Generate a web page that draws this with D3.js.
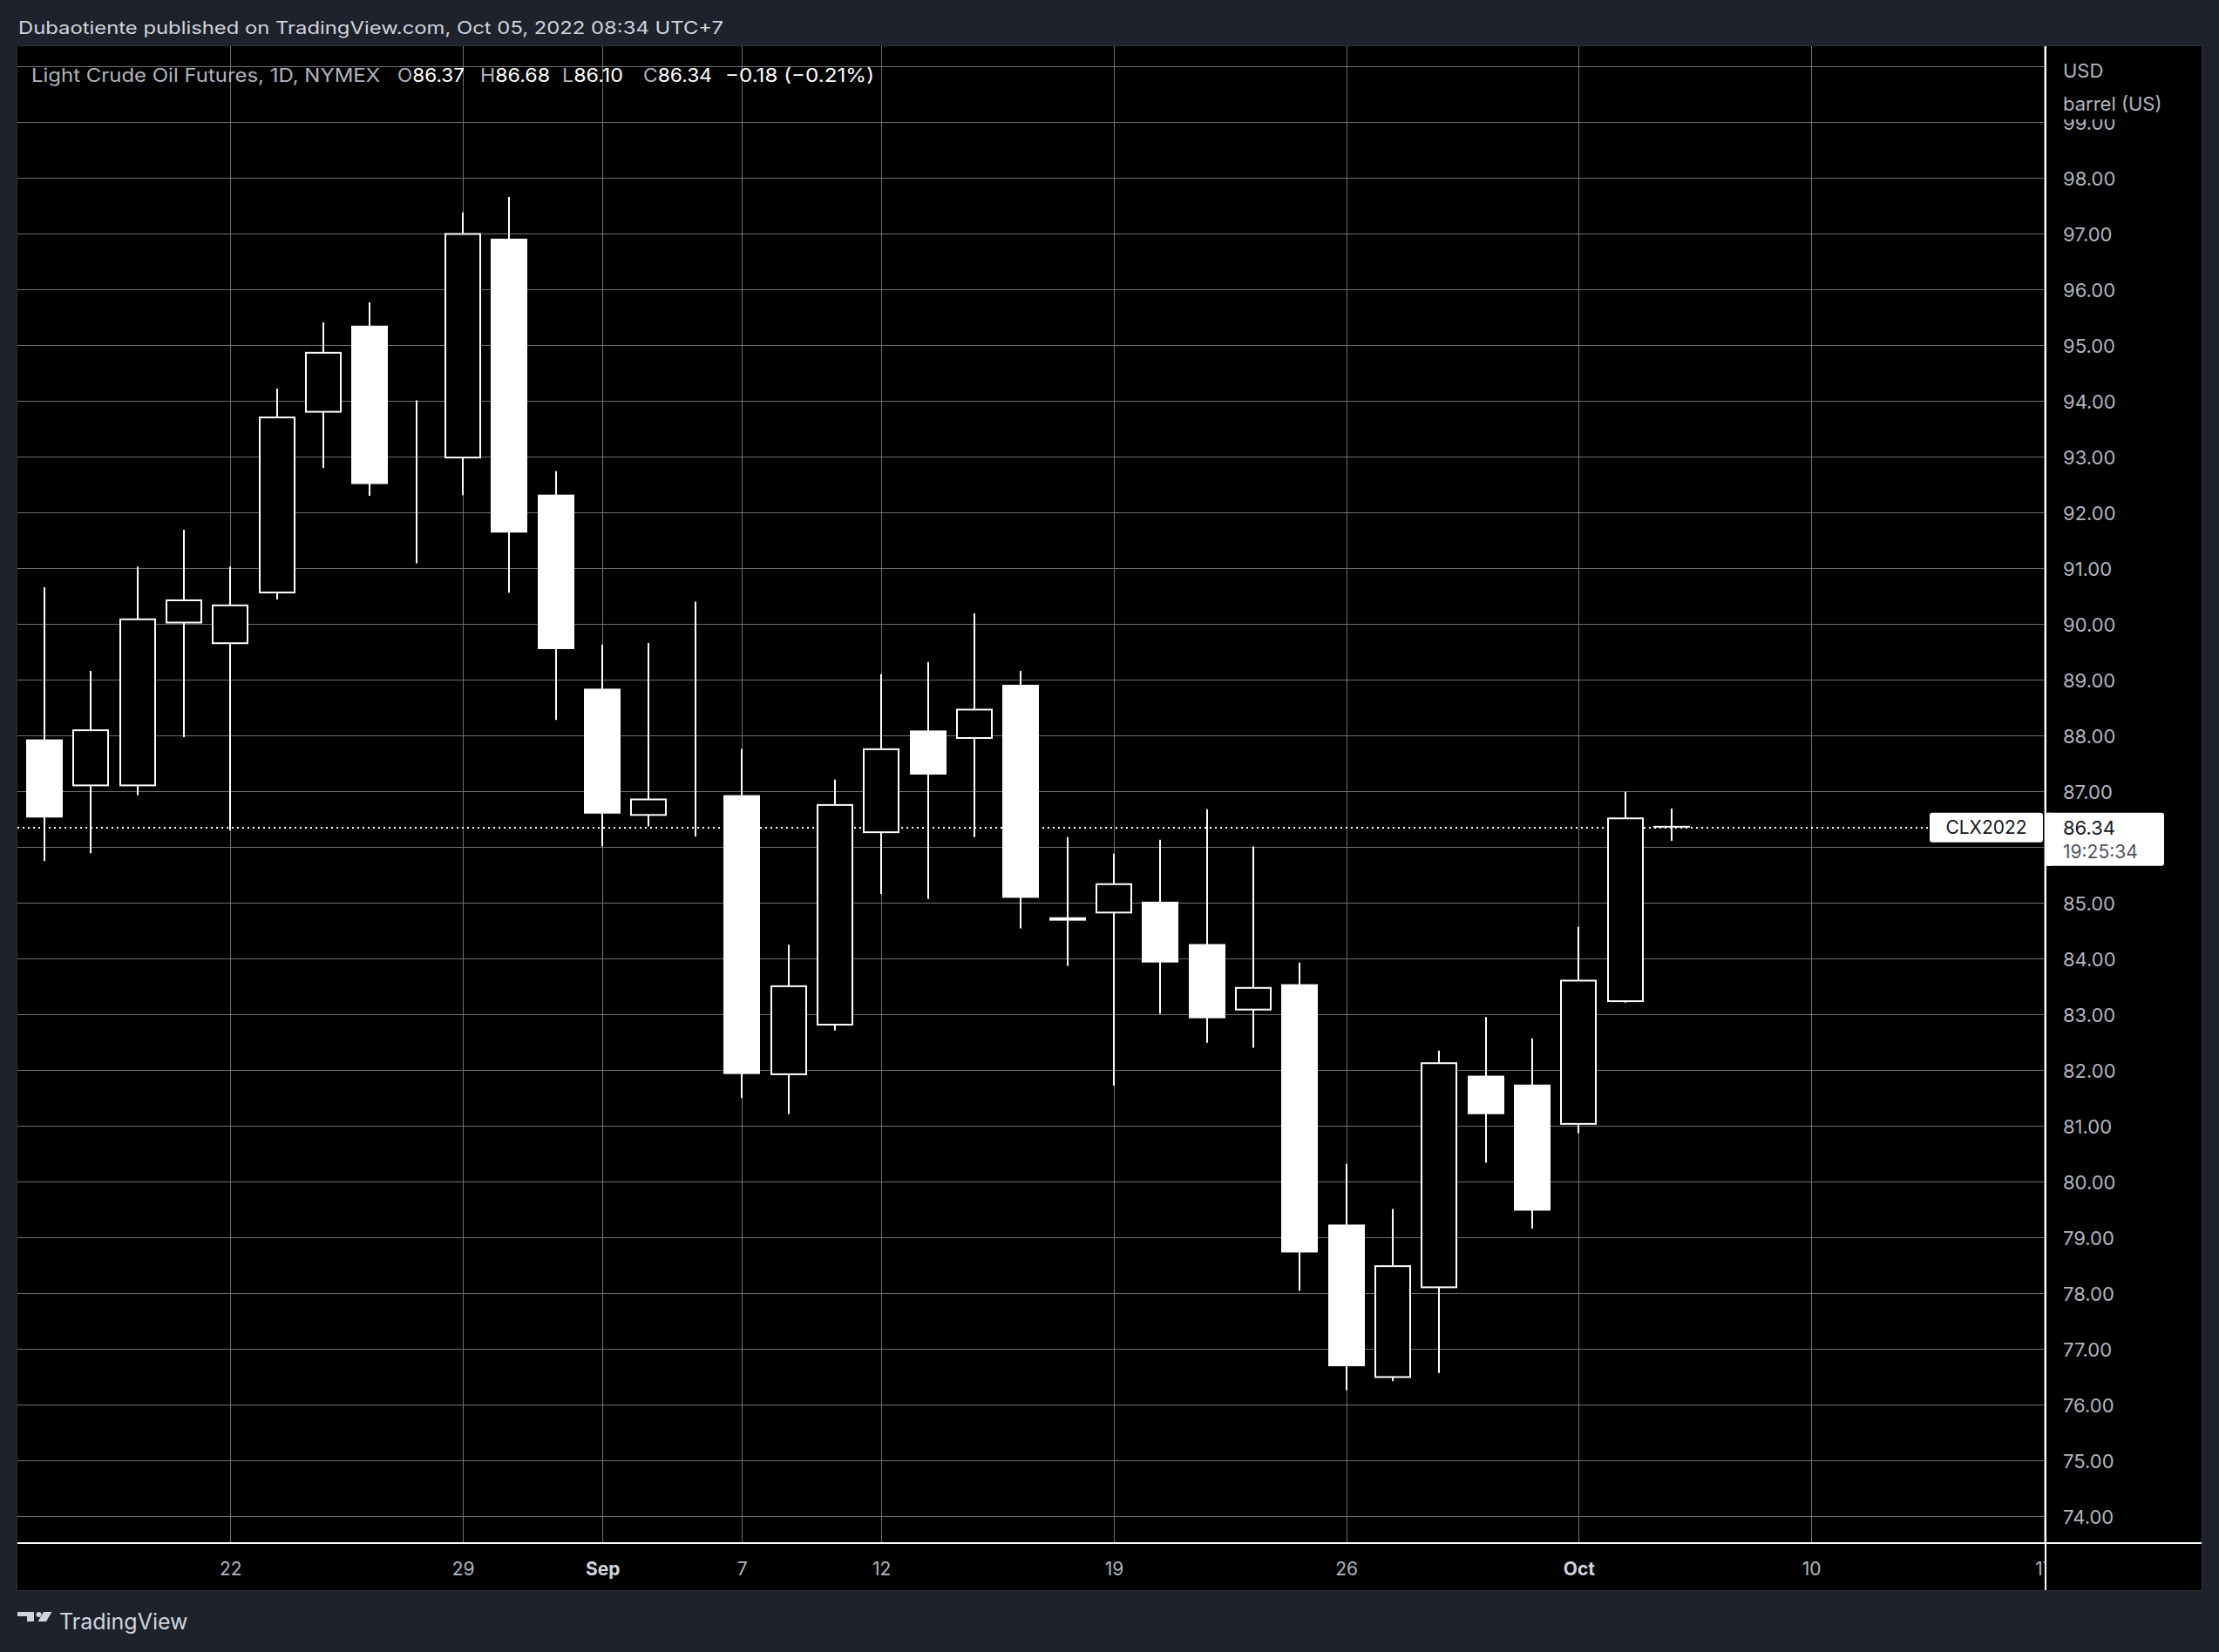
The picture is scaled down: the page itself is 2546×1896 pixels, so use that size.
<!DOCTYPE html>
<html><head><meta charset="utf-8">
<script src="https://cdn.jsdelivr.net/npm/d3@7"></script>
<style>html,body{margin:0;padding:0;background:#1e222d;overflow:hidden}svg{display:block}text{font-family:Inter,"Noto Sans",sans-serif}</style>
</head><body><svg id="c" width="2546" height="1896"></svg>
<script>
// ---- data ----
const dates = ["2022-08-16","2022-08-17","2022-08-18","2022-08-19","2022-08-22","2022-08-23","2022-08-24","2022-08-25","2022-08-26","2022-08-29",
  "2022-08-30","2022-08-31","2022-09-01","2022-09-02","2022-09-06","2022-09-07","2022-09-08","2022-09-09","2022-09-12","2022-09-13",
  "2022-09-14","2022-09-15","2022-09-16","2022-09-19","2022-09-20","2022-09-21","2022-09-22","2022-09-23","2022-09-26","2022-09-27",
  "2022-09-28","2022-09-29","2022-09-30","2022-10-03","2022-10-04","2022-10-05"];
const openP  = [87.92,87.08,87.08,90.00,89.63,90.54,93.78,95.34,93.05,92.96, 96.90,92.31,88.83,86.55,86.86,86.92,81.90,82.79,86.24,88.08, 87.93,88.90,84.67,84.80,85.01,84.25,83.06,83.53,79.22,76.47, 78.08,81.89,81.73,81.01,83.21,86.37];
const highP  = [90.65,89.15,91.02,91.68,91.02,94.21,95.40,95.76,94.00,97.37, 97.65,92.73,89.62,89.65,90.39,87.75,84.24,87.20,89.09,89.31, 90.18,89.15,86.17,85.87,86.12,86.67,86.00,83.92,80.31,79.50, 82.34,82.94,82.56,84.56,86.98,86.68];
const lowP   = [85.74,85.88,86.92,87.96,86.29,90.43,92.79,92.29,91.08,92.30, 90.55,88.27,86.00,86.36,86.18,81.49,81.20,82.70,85.15,85.06, 86.17,84.53,83.86,81.71,83.00,82.48,82.39,78.03,76.25,76.41, 76.56,80.33,79.15,80.86,83.20,86.10];
const closeP = [86.52,88.10,90.09,90.43,90.34,93.71,94.87,92.50,93.06,97.00, 91.63,89.54,86.59,86.86,86.87,81.92,83.51,86.76,87.76,87.29, 88.47,85.08,84.73,85.34,83.92,82.92,83.48,78.72,76.68,78.49, 82.13,81.20,79.47,83.61,86.52,86.34];
const futureDates = ["2022-10-06","2022-10-07","2022-10-10","2022-10-11","2022-10-12","2022-10-13","2022-10-14","2022-10-17"];
const timeTickDates  = ["2022-08-22","2022-08-29","2022-09-01","2022-09-07","2022-09-12","2022-09-19","2022-09-26","2022-10-03","2022-10-10","2022-10-17"];
const timeTickLabels = ["22","29","Sep","7","12","19","26","Oct","10","17"];
const boldTicks = ["Sep","Oct"];
const priceGrid   = [74,75,76,77,78,79,80,81,82,83,84,85,86,87,88,89,90,91,92,93,94,95,96,97,98,99,100];
const priceLabels = [74,75,76,77,78,79,80,81,82,83,84,85,87,88,89,90,91,92,93,94,95,96,97,98,99];
const lastPrice = 86.34;
const symbol = "CLX2022";
const countdown = "19:25:34";
const headerText = "Dubaotiente published on TradingView.com, Oct 05, 2022 08:34 UTC+7";
const legendTitle = "Light Crude Oil Futures, 1D, NYMEX";
const legendOHLC = [["O","86.37"],["H","86.68"],["L","86.10"],["C","86.34"]];
const legendChange = "\u22120.18 (\u22120.21%)";
const unitLines = ["USD","barrel (US)"];

// ---- layout ----
const L = 20, R = 2347, T = 53, B = 1771, AXR = 2526, AXB = 1825;
const svg = d3.select("#c");
const allDates = dates.concat(futureDates);

const x = d3.scaleLinear().domain([-0.581, 43.04]).range([L, R]);
const y = d3.scaleLinear().domain([73.508, 100.352]).range([B, T]);

// backgrounds
svg.append("rect").attr("x",0).attr("y",0).attr("width",2546).attr("height",1896).attr("fill","#1e222d");
svg.append("rect").attr("x",L-0.5).attr("y",T-0.5).attr("width",AXR-L+1).attr("height",AXB-T+1).attr("fill","#000").attr("stroke","#2a2e39").attr("stroke-width",1);

// header
svg.append("text").attr("x",21).attr("y",39).attr("font-size",20).attr("fill","#d1d4dc")
  .attr("textLength",809).attr("lengthAdjust","spacingAndGlyphs").text(headerText);

const defs = svg.append("defs");
defs.append("clipPath").attr("id","plotclip").append("rect").attr("x",L).attr("y",T).attr("width",R-1-L).attr("height",B-1-T);
defs.append("clipPath").attr("id","timeclip").append("rect").attr("x",L).attr("y",B).attr("width",R-1-L).attr("height",AXB-B);

const plot = svg.append("g").attr("clip-path","url(#plotclip)");

// grid
const tickIdx = timeTickDates.map(d => allDates.indexOf(d));
const gx = plot.append("g").attr("transform",`translate(0,${B})`)
  .call(d3.axisBottom(x).tickValues(tickIdx).tickSize(-(B-T)).tickFormat(""));
gx.select(".domain").remove();
gx.selectAll(".tick").attr("transform", d => `translate(${Math.round(x(d))+0.5},0)`);
gx.selectAll("line").attr("stroke","#6e6e6e").attr("stroke-width",1);

const gy = plot.append("g").attr("transform",`translate(${R},0)`)
  .call(d3.axisRight(y).tickValues(priceGrid).tickSize(-(R-L)).tickFormat(""));
gy.select(".domain").remove();
gy.selectAll(".tick").attr("transform", d => `translate(0,${Math.round(y(d))+0.5})`);
gy.selectAll("line").attr("stroke","#6e6e6e").attr("stroke-width",1);

// last price dotted line
plot.append("line").attr("x1",L).attr("x2",2214).attr("y1",Math.round(y(lastPrice))).attr("y2",Math.round(y(lastPrice)))
  .attr("stroke","#fff").attr("stroke-width",2).attr("stroke-dasharray","2,4");

// candles
const candles = dates.map((d,i) => ({i, o:openP[i], h:highP[i], l:lowP[i], c:closeP[i]}));
const bw = 42;
const cg = plot.append("g");
const cs = cg.selectAll("g").data(candles).join("g");
cs.append("line")
  .attr("x1", d => Math.round(x(d.i))).attr("x2", d => Math.round(x(d.i)))
  .attr("y1", d => y(d.h)).attr("y2", d => y(d.l))
  .attr("stroke","#fff").attr("stroke-width",2);
cs.each(function(d){
  const g = d3.select(this);
  const cx = Math.round(x(d.i));
  if (d.c >= d.o) {
    const yt = y(d.c), yb = y(d.o);
    g.append("rect").attr("x",cx-bw/2+1).attr("y",yt+1).attr("width",bw-2).attr("height",Math.max(0,yb-yt-2))
      .attr("fill","#000").attr("stroke","#fff").attr("stroke-width",2);
  } else {
    const yt = y(d.o), yb = y(d.c);
    g.append("rect").attr("x",cx-bw/2).attr("y",yt).attr("width",bw).attr("height",Math.max(2,yb-yt))
      .attr("fill","#fff");
  }
});

// legend
svg.append("text").attr("x",36).attr("y",94).attr("font-size",21).attr("fill","#b2b5be")
  .attr("textLength",400).attr("lengthAdjust","spacingAndGlyphs").text(legendTitle);
const legX = [456,551,645,738];
const legW = [77,80,70,79];
legendOHLC.forEach((p,k) => {
  const t = svg.append("text").attr("x",legX[k]).attr("y",94).attr("font-size",21)
    .attr("textLength",legW[k]).attr("lengthAdjust","spacingAndGlyphs");
  t.append("tspan").attr("fill","#b2b5be").text(p[0]);
  t.append("tspan").attr("fill","#ffffff").text(p[1]);
});
svg.append("text").attr("x",832).attr("y",94).attr("font-size",21).attr("fill","#ffffff")
  .attr("textLength",171).attr("lengthAdjust","spacingAndGlyphs").text(legendChange);

// price axis
const py = svg.append("g").attr("transform",`translate(${R},0)`)
  .call(d3.axisRight(y).tickValues(priceLabels).tickSize(0).tickPadding(20).tickFormat(d => d.toFixed(2)));
py.select(".domain").remove();
py.selectAll("text").attr("font-size",22).attr("fill","#b2b5be").attr("font-family","Inter").attr("dy","0.36em")
  .attr("transform","translate(0,1)");
// unit box
svg.append("rect").attr("x",R+2).attr("y",T).attr("width",AXR-R-2).attr("height",137-T).attr("fill","#000");
svg.append("text").attr("x",2367).attr("y",89).attr("font-size",22).attr("fill","#b2b5be").text(unitLines[0]);
svg.append("text").attr("x",2367).attr("y",127).attr("font-size",22).attr("fill","#b2b5be").text(unitLines[1]);

// time axis
const tg = svg.append("g").attr("clip-path","url(#timeclip)").append("g").attr("transform",`translate(0,${B})`)
  .call(d3.axisBottom(x).tickValues(tickIdx).tickSize(0).tickFormat((d,k) => timeTickLabels[k]));
tg.select(".domain").remove();
tg.selectAll("text").attr("y",37).attr("dy",0).attr("font-size",21).attr("font-family","Inter")
  .attr("fill", (d,k) => boldTicks.includes(timeTickLabels[k]) ? "#d1d4dc" : "#b2b5be")
  .attr("font-weight", (d,k) => boldTicks.includes(timeTickLabels[k]) ? 700 : 400);

// borders
svg.append("rect").attr("x",L).attr("y",B-1).attr("width",AXR-L).attr("height",2).attr("fill","#fff");
svg.append("rect").attr("x",R-1).attr("y",T).attr("width",2).attr("height",AXB-T).attr("fill","#fff");

// last price tags
const ly = y(lastPrice);
svg.append("rect").attr("x",2214).attr("y",ly-17).attr("width",130).attr("height",34).attr("rx",3).attr("fill","#fff");
svg.append("text").attr("x",2279).attr("y",ly).attr("dy","0.36em").attr("text-anchor","middle").attr("font-size",21).attr("fill","#131722").text(symbol);
svg.append("rect").attr("x",R+1).attr("y",ly-17).attr("width",135).attr("height",61).attr("rx",3).attr("fill","#fff");
svg.append("rect").attr("x",R+1).attr("y",ly-17).attr("width",6).attr("height",61).attr("fill","#fff");
svg.append("text").attr("x",2367).attr("y",ly).attr("dy","0.36em").attr("font-size",22).attr("fill","#131722").text(lastPrice.toFixed(2));
svg.append("text").attr("x",2367).attr("y",ly+28).attr("dy","0.36em").attr("font-size",21).attr("fill","#50535e").text(countdown);

// TradingView logo
const logo = svg.append("g").attr("fill","#d1d4dc");
logo.append("path").attr("d","M20,1850 H39 V1861 H31 V1855 H20 Z");
logo.append("circle").attr("cx",44.5).attr("cy",1853).attr("r",3);
logo.append("path").attr("d","M50,1850 H59.5 L53,1861 H43.5 Z");
svg.append("text").attr("x",68).attr("y",1870).attr("font-size",25).attr("fill","#d1d4dc").text("TradingView");
</script></body></html>
